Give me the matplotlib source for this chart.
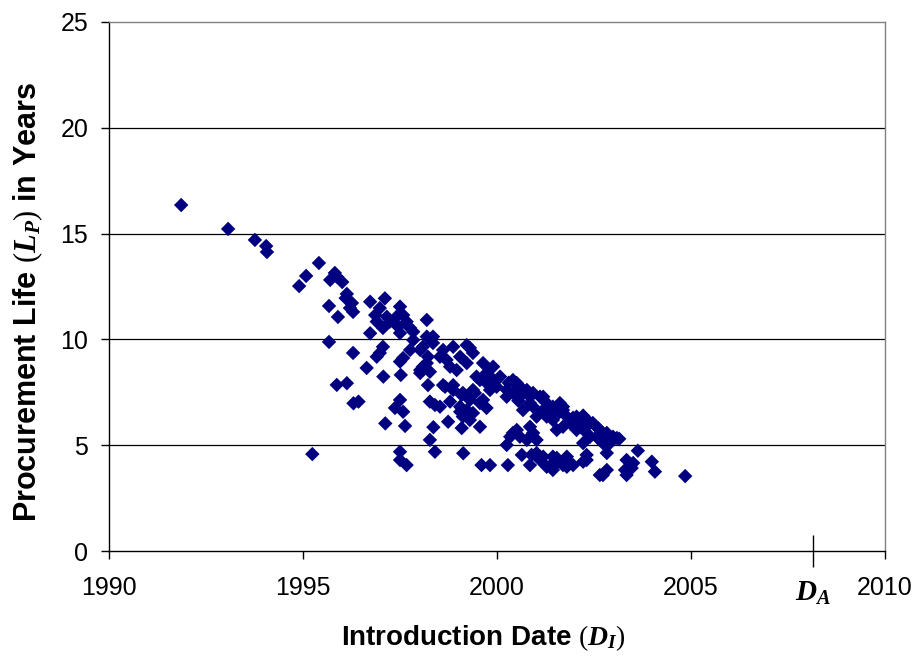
import matplotlib
matplotlib.use("Agg")
import matplotlib.pyplot as plt

plt.rcParams["font.family"] = ["Liberation Sans", "DejaVu Sans"]
plt.rcParams["mathtext.fontset"] = "custom"
plt.rcParams["mathtext.it"] = "Liberation Serif:italic:bold"
plt.rcParams["mathtext.rm"] = "Liberation Serif"
plt.rcParams["mathtext.bf"] = "Liberation Serif:bold"

# Introduction date (year) and procurement life (years) of each part
intro_date = [
    1991.86, 1993.07, 1993.76, 1994.05, 1994.07, 1994.90, 1995.08, 1995.41,
    1995.82, 1995.70, 1996.01, 1995.88, 1995.67, 1995.90, 1996.13, 1996.26,
    1996.29, 1996.10, 1996.21, 1995.67, 1996.29, 1996.64, 1995.87, 1996.13,
    1996.30, 1996.43, 1995.24,
    1996.73, 1997.11, 1996.98, 1996.86, 1997.16, 1996.90, 1997.24, 1997.06,
    1997.50, 1997.58, 1997.41, 1997.67, 1997.45, 1997.76, 1997.84, 1997.50,
    1998.19, 1996.73, 1997.06, 1996.98, 1996.90, 1997.58, 1997.50, 1997.76,
    1997.84, 1998.09, 1998.22, 1998.09, 1998.35, 1998.61, 1998.19, 1998.35,
    1998.02, 1998.53, 1998.19, 1998.02,
    1998.87, 1999.22, 1999.38, 1999.05, 1998.70, 1999.22, 1998.96, 1999.64,
    1999.90, 2000.08, 1999.73, 1999.99, 2000.25, 1999.82, 1999.56, 1999.30,
    1998.79, 1999.90, 1999.47, 1999.73,
    2000.41, 2000.59, 2000.77, 2000.93, 2001.19, 2000.59, 2000.85, 2000.67,
    2000.30, 2000.51, 2000.67, 2000.41, 2000.25, 2000.55, 2000.85, 2000.93,
    2001.11, 2001.28, 2001.19, 2001.44, 2001.62, 2001.70, 2001.02, 2001.28,
    2001.37, 2001.60, 2001.80, 2002.05, 2002.31, 2002.47, 2002.65, 2002.83,
    2002.99, 2001.44, 2001.70, 2002.05, 2002.40, 2002.65, 2001.70, 2001.96,
    2002.22, 2001.88, 2002.14, 2002.40, 2002.60, 2001.54, 2002.31, 2002.57,
    2002.22, 2003.09, 2002.91, 2002.73, 2003.15,
    1997.07, 1997.52, 1998.02, 1998.27, 1998.22, 1998.61, 1997.50, 1997.37,
    1997.58, 1998.27, 1998.40, 1997.12, 1997.63, 1998.36, 1998.27, 1998.40,
    1997.50, 1997.50, 1997.67, 1998.74, 1998.79, 1999.05, 1999.09, 1999.12,
    1999.38, 1999.56, 1998.66, 1998.87, 1999.12, 1999.38, 1999.30, 1999.64,
    1999.22, 1999.56, 1999.73, 1999.30, 1998.87, 1999.09, 1999.05, 1999.43,
    1998.53,
    1999.13, 1999.60, 1999.82, 2000.28, 2000.25, 2000.41, 2000.59, 2000.77,
    2000.93, 2000.85, 2000.51, 2000.34, 2001.02, 2000.64, 2000.89, 2000.85,
    2001.11, 2001.28, 2001.44, 2001.54, 2001.80, 2001.70, 2001.96, 2002.31,
    2002.31, 2002.22, 2002.83, 2002.65, 2002.83, 2002.73, 2003.34, 2003.63,
    2003.34, 2003.51, 2003.30, 2003.47, 2003.99, 2004.07, 2004.85, 2001.44,
    2001.80, 2001.80, 2001.02, 2001.19, 2001.44, 2001.44,
]
procurement_life = [
    16.35, 15.22, 14.70, 14.41, 14.13, 12.52, 13.00, 13.61,
    13.14, 12.81, 12.71, 12.95, 11.58, 11.06, 12.15, 11.72,
    11.30, 11.95, 11.48, 9.88, 9.36, 8.65, 7.85, 7.93,
    6.98, 7.06, 4.58,
    11.78, 11.94, 11.48, 11.15, 11.07, 10.84, 10.84, 10.54,
    11.55, 11.15, 11.07, 10.84, 10.60, 10.54, 10.36, 10.30,
    10.92, 10.29, 9.65, 9.36, 9.18, 9.12, 8.95, 9.50,
    9.97, 9.65, 9.18, 8.71, 10.13, 9.50, 10.13, 9.83,
    9.50, 9.18, 8.88, 8.55,
    9.65, 9.73, 9.36, 9.18, 9.03, 8.88, 8.55, 8.88,
    8.71, 8.24, 8.41, 7.76, 7.61, 7.61, 8.08, 9.60,
    8.71, 8.10, 8.24, 7.94,
    8.08, 7.76, 7.61, 7.47, 7.29, 7.29, 6.99, 6.66,
    7.95, 7.94, 7.61, 7.47, 7.29, 7.10, 7.29, 6.82,
    7.29, 6.99, 6.66, 6.82, 6.99, 6.66, 6.35, 6.35,
    6.66, 6.55, 6.35, 6.35, 6.19, 6.05, 5.72, 5.58,
    5.40, 6.19, 5.87, 5.72, 5.40, 5.25, 6.82, 6.30,
    6.40, 6.05, 5.87, 6.05, 5.81, 5.72, 5.58, 5.40,
    5.10, 5.34, 5.10, 5.10, 5.30,
    8.24, 8.32, 8.41, 8.47, 7.84, 7.84, 7.14, 6.76,
    6.58, 7.06, 6.90, 6.03, 5.91, 5.85, 5.25, 4.69,
    4.69, 4.30, 4.06, 6.11, 7.06, 6.82, 5.81, 6.35,
    6.52, 5.87, 7.76, 7.61, 7.47, 7.61, 7.14, 7.14,
    6.66, 6.99, 6.76, 6.19, 7.84, 7.37, 6.58, 7.47,
    6.82,
    4.62, 4.06, 4.06, 4.06, 5.01, 5.58, 5.40, 5.25,
    5.58, 5.87, 5.72, 5.40, 5.25, 4.54, 4.54, 4.06,
    4.30, 3.98, 3.83, 4.40, 4.46, 4.06, 4.06, 4.54,
    4.30, 4.22, 4.63, 3.59, 3.83, 3.59, 3.59, 4.74,
    4.30, 4.16, 3.83, 3.92, 4.22, 3.75, 3.54, 4.16,
    4.30, 3.98, 4.63, 4.46, 4.46, 3.98,
]

x_ticks = [1990, 1995, 2000, 2005, 2010]
y_ticks = [0, 5, 10, 15, 20, 25]
assessment_date = 2008.15
assessment_label = r"$D_A$"

fig = plt.figure(figsize=(9.17, 6.58), dpi=100)
ax = fig.add_axes([0.1189, 0.1626, 0.8462, 0.8040])

ax.scatter(intro_date, procurement_life, marker="D", s=54,
           color="#000080", edgecolors="none", zorder=3)

ax.set_xlim(1990, 2010)
ax.set_ylim(0, 25)
ax.set_xticks(x_ticks)
ax.set_xticklabels([str(t) for t in x_ticks])
ax.set_yticks(y_ticks)
ax.set_xticks([assessment_date], minor=True)
ax.set_xticklabels([assessment_label], minor=True, fontsize=21)

for y in y_ticks[1:-1]:
    ax.axhline(y, color="black", linewidth=0.9, zorder=1)

ax.tick_params(axis="x", which="major", direction="out", length=6,
               width=1, pad=12, labelsize=18)
ax.tick_params(axis="x", which="minor", direction="inout", length=23,
               width=1, pad=8.5)
ax.tick_params(axis="y", direction="out", length=6, width=1, pad=9,
               labelsize=18)

for side in ("left", "bottom"):
    ax.spines[side].set_color("black")
    ax.spines[side].set_linewidth(1)
for side in ("top", "right"):
    ax.spines[side].set_color("#808080")
    ax.spines[side].set_linewidth(1)

ax.set_xlabel(r"Introduction Date $(D_I)$", fontsize=20, fontweight="bold")
ax.xaxis.set_label_coords(0.482, -0.137)
ax.set_ylabel(r"Procurement Life $(L_P)$ in Years", fontsize=22,
              fontweight="bold")
ax.yaxis.set_label_coords(-0.082, 0.4707)

fig.savefig("out.png", dpi=100)
